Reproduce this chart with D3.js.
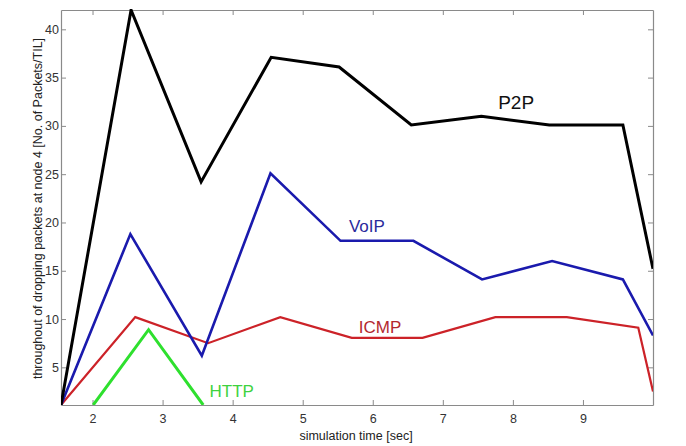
<!DOCTYPE html>
<html>
<head>
<meta charset="utf-8">
<script src="https://cdn.jsdelivr.net/npm/d3@7"></script>
<style>
  html, body { margin: 0; padding: 0; background: #fff; }
  svg { display: block; font-family: "Liberation Sans", Arial, sans-serif; }
</style>
</head>
<body>
<svg id="chart" width="686" height="446"></svg>
<script>
// Dropped-packet throughput at node 4 per traffic class over simulation time
const xTicks = [2, 3, 4, 5, 6, 7, 8, 9];
const yTicks = [5, 10, 15, 20, 25, 30, 35, 40];

const p2pTime = [1.55, 2.55, 3.55, 4.55, 5.52, 6.55, 7.55, 8.52, 9.57, 10];
const p2pValues = [1.1, 42, 24.2, 37.1, 36.1, 30.1, 31.0, 30.1, 30.1, 15.2];

const voipTime = [1.55, 2.54, 3.56, 4.54, 5.54, 6.58, 7.56, 8.56, 9.57, 10];
const voipValues = [1.1, 18.8, 6.2, 25.1, 18.1, 18.1, 14.1, 16.0, 14.1, 8.3];

const icmpTime = [1.55, 2.61, 3.65, 4.68, 5.7, 6.71, 7.75, 8.77, 9.79, 10];
const icmpValues = [1.1, 10.2, 7.5, 10.2, 8.05, 8.05, 10.2, 10.2, 9.1, 2.5];

const httpTime = [2.01, 2.8, 3.58];
const httpValues = [1.1, 8.9, 1.1];

const seriesNames = ["P2P", "VoIP", "ICMP", "HTTP"];

const svg = d3.select("#chart");
const plot = { left: 61, right: 653, top: 10, bottom: 405 };

const x = d3.scaleLinear().domain([1.55, 10]).range([plot.left, plot.right]);
const y = d3.scaleLinear().domain([1.1, 42]).range([plot.bottom, plot.top]);

// Clip lines to the plotting box
svg.append("defs").append("clipPath").attr("id", "plotClip")
  .append("rect")
  .attr("x", plot.left).attr("y", plot.top - 1)
  .attr("width", plot.right - plot.left).attr("height", plot.bottom - plot.top + 1);

const axisColor = "#8a8a8a";
const tickLen = 5;

// Box-style axes with inward ticks on all four sides
function styleAxis(g) {
  g.select(".domain").attr("stroke", axisColor).attr("stroke-width", 1.2);
  g.selectAll(".tick line").attr("stroke", axisColor).attr("stroke-width", 1);
  g.selectAll(".tick text").attr("fill", "#333").attr("font-size", 12.5);
}

svg.append("g")
  .attr("transform", `translate(0,${plot.bottom})`)
  .call(d3.axisBottom(x).tickValues(xTicks).tickFormat(d3.format("d"))
        .tickSizeInner(-tickLen).tickSizeOuter(0).tickPadding(9))
  .call(styleAxis);

svg.append("g")
  .attr("transform", `translate(0,${plot.top})`)
  .call(d3.axisTop(x).tickValues(xTicks).tickFormat("")
        .tickSizeInner(-tickLen).tickSizeOuter(0))
  .call(styleAxis);

svg.append("g")
  .attr("transform", `translate(${plot.left},0)`)
  .call(d3.axisLeft(y).tickValues(yTicks).tickFormat(d3.format("d"))
        .tickSizeInner(-tickLen).tickSizeOuter(0).tickPadding(2))
  .call(styleAxis);

svg.append("g")
  .attr("transform", `translate(${plot.right},0)`)
  .call(d3.axisRight(y).tickValues(yTicks).tickFormat("")
        .tickSizeInner(-tickLen).tickSizeOuter(0))
  .call(styleAxis);

// Axis titles
svg.append("text")
  .attr("x", (plot.left + plot.right) / 2 - 1)
  .attr("y", 440)
  .attr("text-anchor", "middle")
  .attr("font-size", 12.5)
  .attr("fill", "#222")
  .text("simulation time [sec]");

svg.append("text")
  .attr("transform", `translate(42,${(plot.top + plot.bottom) / 2 + 1}) rotate(-90)`)
  .attr("text-anchor", "middle")
  .attr("font-size", 12.5)
  .attr("fill", "#222")
  .text("throughout of dropping packets at node 4 [No. of Packets/TIL]");

// Series lines
const series = [
  { name: seriesNames[0], t: p2pTime, v: p2pValues, color: "#000000", width: 3 },
  { name: seriesNames[1], t: voipTime, v: voipValues, color: "#1a1aad", width: 2.6 },
  { name: seriesNames[2], t: icmpTime, v: icmpValues, color: "#cc2228", width: 2.2 },
  { name: seriesNames[3], t: httpTime, v: httpValues, color: "#2ee02e", width: 3 }
];

const line = d3.line().x(d => x(d[0])).y(d => y(d[1]));

const lines = svg.append("g").attr("clip-path", "url(#plotClip)");
// draw in back-to-front order so black sits on top
[3, 2, 1, 0].forEach(i => {
  const s = series[i];
  lines.append("path")
    .datum(s.t.map((t, k) => [t, s.v[k]]))
    .attr("fill", "none")
    .attr("stroke", s.color)
    .attr("stroke-width", s.width)
    .attr("stroke-linejoin", "miter")
    .attr("d", line);
});

// In-plot series labels, anchored in data units
const labels = [
  { name: seriesNames[0], at: [7.79, 31.8], color: "#111111", size: 19 },
  { name: seriesNames[1], at: [5.66, 19.0], color: "#2a2a9c", size: 17 },
  { name: seriesNames[2], at: [5.80, 8.6], color: "#b3282e", size: 17 },
  { name: seriesNames[3], at: [3.67, 1.95], color: "#3fd23f", size: 17 }
];
svg.append("g").selectAll("text").data(labels).join("text")
  .attr("x", d => x(d.at[0]))
  .attr("y", d => y(d.at[1]))
  .attr("font-size", d => d.size)
  .attr("fill", d => d.color)
  .text(d => d.name);
</script>
</body>
</html>
